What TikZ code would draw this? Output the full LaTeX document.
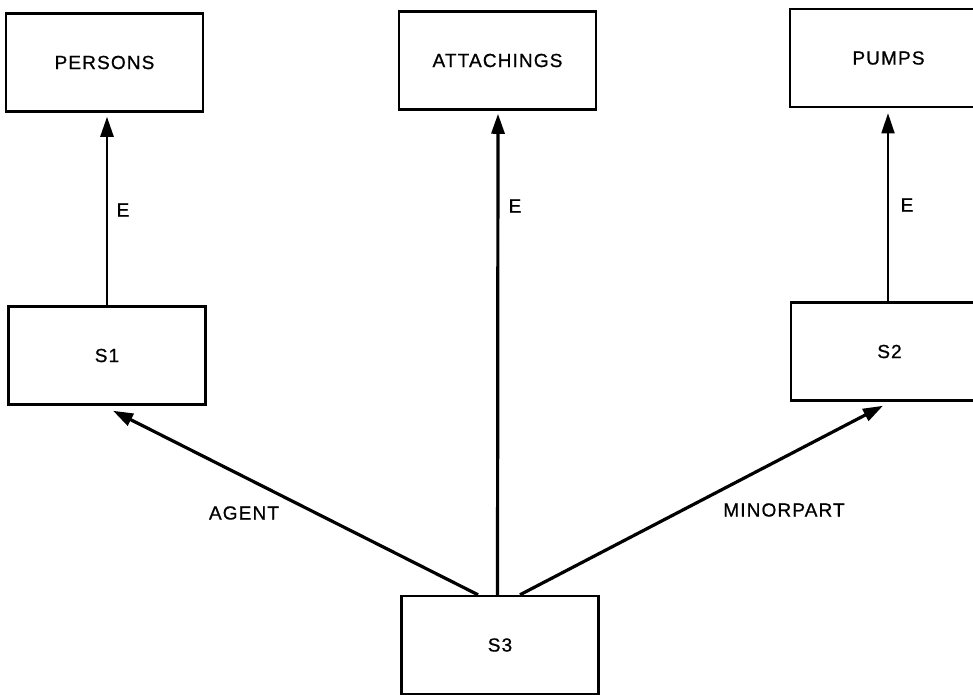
\documentclass[tikz,border=0pt]{standalone}
\usepackage{fontspec}
\setmainfont[LetterSpace=6,FakeBold=0.8]{Liberation Sans}
\usetikzlibrary{arrows.meta,calc}

\tikzset{
  entity/.style={draw, line width=2.5pt, rectangle, minimum width=197pt,
    minimum height=98pt, inner sep=0pt, font=\fontsize{19}{22}\selectfont},
  lbl/.style={inner sep=0pt, font=\fontsize{19}{22}\selectfont},
  isa/.style={line width=2.6pt, -{Triangle[length=20pt,width=13pt]}},
  rel/.style={line width=3.2pt, -{Triangle[length=20pt,width=13pt]}},
}

\begin{document}
\begin{tikzpicture}[x=1pt,y=-1pt]
  \useasboundingbox (0,0) rectangle (973,694);
  \clip (0,0) rectangle (973,694);

  % type boxes along the top
  \node[entity] (persons) at (104.5,62.5) {PERSONS};
  \node[entity] (attach)  at (497.5,60.5) {ATTACHINGS};
  \node[entity] (pumps)   at (888.5,58)   {PUMPS};

  % situation boxes
  \node[entity] (s1) at (107,355.5) {S1};
  \node[entity] (s2) at (889.5,351.5) {S2};
  \node[entity] (s3) at (500,645) {S3};

  % element-of links
  \draw[isa] (s1.north) -- ($(s1.north |- persons.south)+(0,4)$);
  \draw[isa, line width=3.2pt] (attach.south |- s3.north) -- ($(attach.south)+(0.5,3)$);
  \draw[isa, line width=1.8pt] ($(s2.north)+(-1.5,0)$) -- ($(pumps.south)+(-0.5,5)$);

  % role links from S3
  \draw[rel] ($(s3.north)+(-22,0)$) -- ($(s1.south)+(6,5)$);
  \draw[rel] ($(s3.north)+(20,0)$) -- ($(s2.south)+(-6.5,4)$);

  % link labels
  \node[lbl] (e1) at (123,210) {E};
  \node[lbl] (e2) at (515,206) {E};
  \node[lbl] (e3) at (907,205) {E};
  \node[lbl] (agent) at (244,513) {AGENT};
  \node[lbl] (minor) at (784,510) {MINORPART};
\end{tikzpicture}
\end{document}
